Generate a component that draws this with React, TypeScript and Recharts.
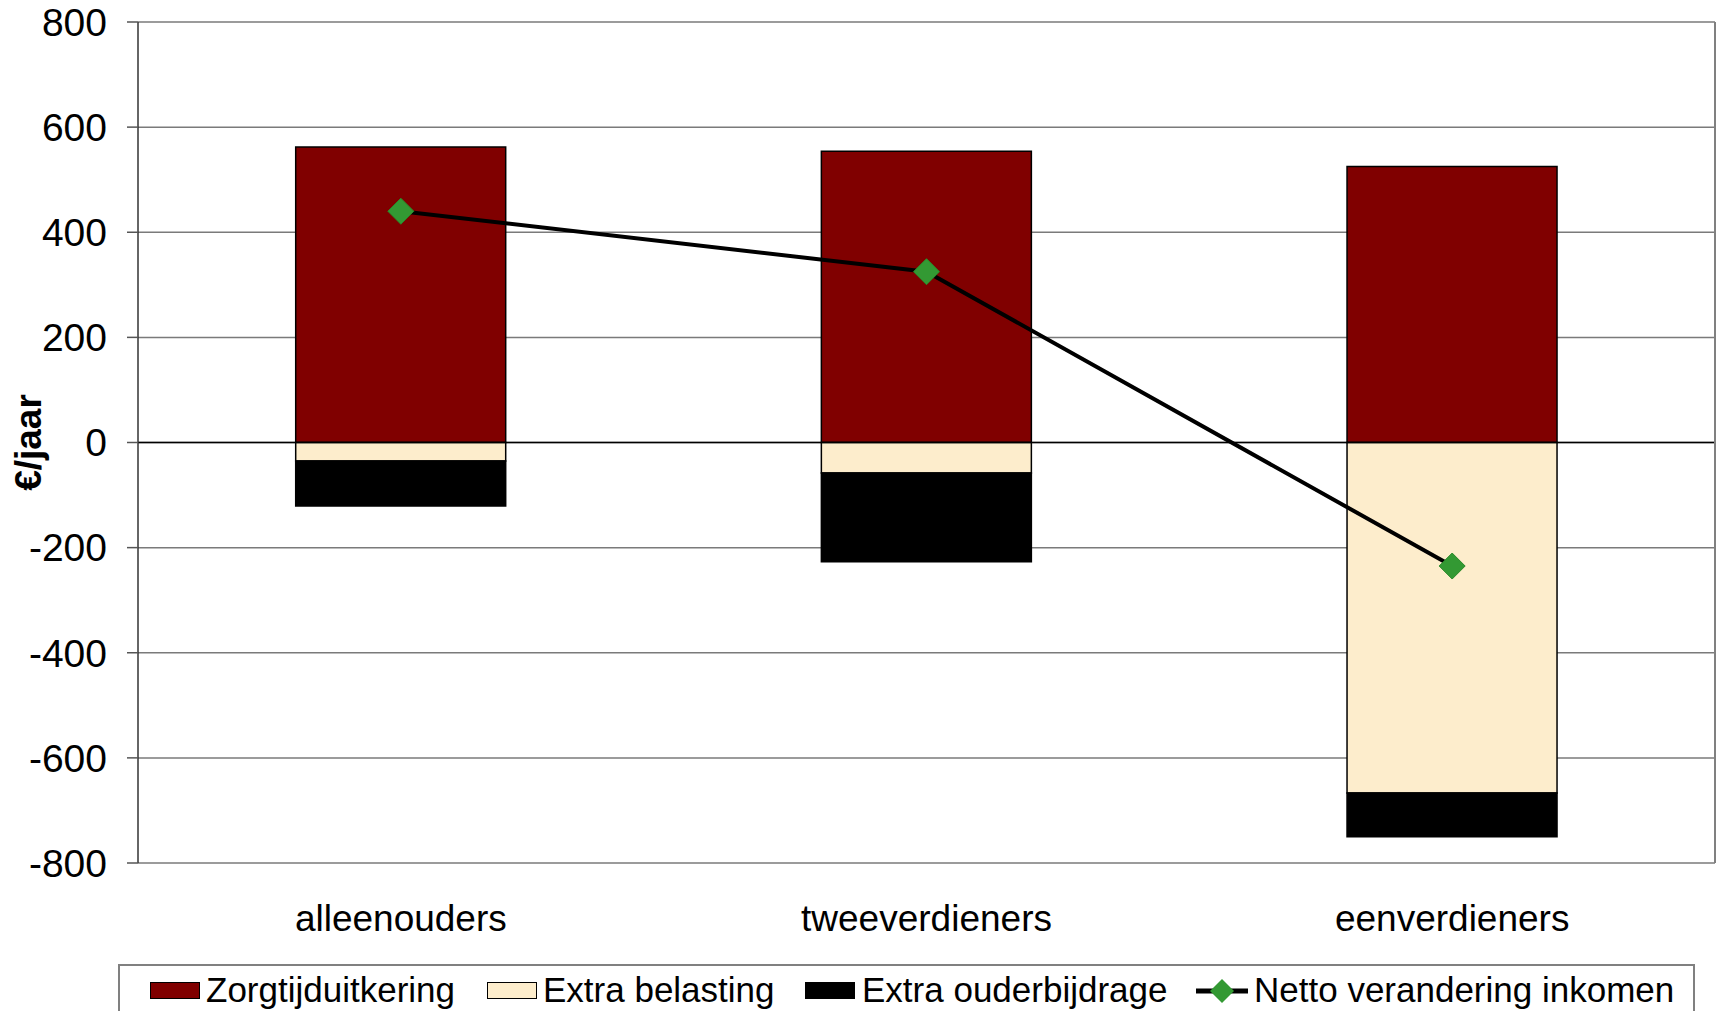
import { ComposedChart, Bar, Line, XAxis, YAxis, CartesianGrid, ReferenceLine } from 'recharts';

const categories = ['alleenouders', 'tweeverdieners', 'eenverdieners'];
const zorgtijd = [562, 554, 525];
const extraBelasting = [-35, -58, -667];
const extraOuder = [-86, -169, -83];
const netto = [440, 325, -235];
const yTicks = [-800, -600, -400, -200, 0, 200, 400, 600, 800];

const data = categories.map((name, i) => ({
  name,
  zorg: zorgtijd[i],
  belasting: extraBelasting[i],
  ouder: extraOuder[i],
  netto: netto[i],
}));

const FONT = '"Liberation Sans", Arial, sans-serif';

const Diamond = (props: any) => {
  const { cx, cy } = props;
  if (cx == null || cy == null) return null;
  const r = 13;
  return (
    <polygon
      points={`${cx},${cy - r} ${cx + r},${cy} ${cx},${cy + r} ${cx - r},${cy}`}
      fill="#339933"
      stroke="#2a8a2a"
      strokeWidth={1}
    />
  );
};

const LegendBox = () => {
  const text = { position: 'absolute' as const, top: 972, fontSize: 35, lineHeight: '35px', color: '#000', whiteSpace: 'nowrap' as const };
  const swatch = (left: number, fill: string) => (
    <div style={{ position: 'absolute', left, top: 982, width: 50, height: 17, background: fill, border: '1px solid #000', boxSizing: 'border-box' }} />
  );
  return (
    <>
      <div style={{ position: 'absolute', left: 118, top: 964, width: 1577, height: 60, border: '2px solid #808080', boxSizing: 'border-box' }} />
      {swatch(150, '#800000')}
      <div style={{ ...text, left: 206 }}>Zorgtijduitkering</div>
      {swatch(487, '#FDEDCC')}
      <div style={{ ...text, left: 543 }}>Extra belasting</div>
      {swatch(805, '#000000')}
      <div style={{ ...text, left: 862 }}>Extra ouderbijdrage</div>
      <svg style={{ position: 'absolute', left: 1194, top: 976 }} width={56} height={30}>
        <line x1={2} y1={15} x2={54} y2={15} stroke="#000" strokeWidth={5} />
        <polygon points="28,3 40,15 28,27 16,15" fill="#339933" />
      </svg>
      <div style={{ ...text, left: 1254 }}>Netto verandering inkomen</div>
    </>
  );
};

export default function App() {
  return (
    <div style={{ position: 'relative', width: 1717, height: 1011, overflow: 'hidden', fontFamily: FONT, background: '#fff' }}>
      <style>{`body{margin:0}`}</style>
      <ComposedChart
        width={1717}
        height={1011}
        data={data}
        stackOffset="sign"
        barCategoryGap="30%"
        margin={{ top: 22, right: 1, left: 0, bottom: 0 }}
        style={{ fontFamily: FONT }}
      >
        <CartesianGrid vertical={false} stroke="#7a7a7a" strokeWidth={1.5} />
        <XAxis
          dataKey="name"
          height={148}
          axisLine={false}
          tickLine={false}
          tickSize={0}
          tickMargin={42}
          tick={{ fontSize: 37, fill: '#000' }}
          interval={0}
        />
        <YAxis
          width={138}
          domain={[-800, 800]}
          ticks={yTicks}
          interval={0}
          axisLine={{ stroke: '#333', strokeWidth: 1.5 }}
          tickLine={{ stroke: '#555', strokeWidth: 1.5 }}
          tickSize={11}
          tickMargin={20}
          tick={{ fontSize: 39, fill: '#000' }}
          label={{ value: '€/jaar', angle: -90, position: 'insideLeft', offset: 28, style: { fontSize: 37, fontWeight: 'bold', fill: '#000', textAnchor: 'middle' } }}
        />
        <YAxis
          yAxisId="frame"
          orientation="right"
          width={1}
          domain={[0, 1]}
          tick={false}
          tickLine={false}
          axisLine={{ stroke: '#808080', strokeWidth: 2 }}
        />
        <Bar dataKey="zorg" stackId="a" fill="#800000" stroke="#000" strokeWidth={1.5} isAnimationActive={false} />
        <Bar dataKey="belasting" stackId="a" fill="#FDEDCC" stroke="#000" strokeWidth={1.5} isAnimationActive={false} />
        <Bar dataKey="ouder" stackId="a" fill="#000000" stroke="#000" strokeWidth={1.5} isAnimationActive={false} />
        <ReferenceLine y={0} stroke="#000" strokeWidth={1.5} />
        <Line
          type="linear"
          dataKey="netto"
          stroke="#000"
          strokeWidth={4}
          dot={<Diamond />}
          activeDot={false}
          isAnimationActive={false}
        />
      </ComposedChart>
      <LegendBox />
    </div>
  );
}
